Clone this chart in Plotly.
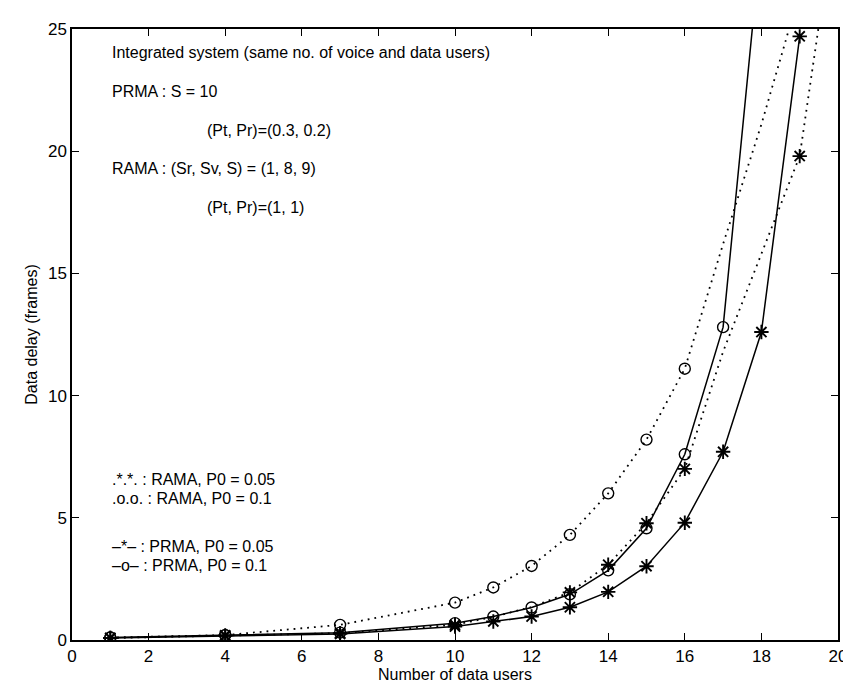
import plotly.graph_objects as go

# ---- data ----
prma01_x = [1, 4, 7, 10, 11, 12, 13, 14, 15, 16, 17, 18]
prma01_y = [0.10, 0.20, 0.30, 0.69, 0.96, 1.33, 1.87, 2.85, 4.57, 7.6, 12.8, 28.8]

prma005_x = [1, 4, 7, 10, 11, 12, 13, 14, 15, 16, 17, 18, 19]
prma005_y = [0.08, 0.17, 0.25, 0.55, 0.76, 0.96, 1.34, 1.97, 3.02, 4.8, 7.7, 12.6, 24.7]

rama01_x = [1, 4, 7, 10, 11, 12, 13, 14, 15, 16, 17, 18, 19]
rama01_y = [0.10, 0.20, 0.62, 1.53, 2.15, 3.03, 4.3, 6.0, 8.2, 11.1, 16.2, 21.1, 26.5]
rama01_mx = [1, 4, 7, 10, 11, 12, 13, 14, 15, 16]
rama01_my = [0.10, 0.20, 0.62, 1.53, 2.15, 3.03, 4.3, 6.0, 8.2, 11.1]

rama005_x = [1, 4, 7, 10, 11, 12, 13, 14, 15, 16, 17, 18, 19, 20]
rama005_y = [0.08, 0.19, 0.28, 0.62, 0.95, 1.35, 1.95, 3.08, 4.78, 7.0, 11.8, 15.8, 19.8, 30.5]
rama005_mx = [1, 4, 7, 10, 13, 14, 15, 16, 19]
rama005_my = [0.08, 0.19, 0.28, 0.62, 1.95, 3.08, 4.78, 7.0, 19.8]

x_ticks = [0, 2, 4, 6, 8, 10, 12, 14, 16, 18, 20]
y_ticks = [0, 5, 10, 15, 20, 25]

info_lines = [
    ("Integrated system (same no. of voice and data users)", 0.05, 40),
    ("PRMA : S = 10", 0.05, 79),
    ("(Pt, Pr)=(0.3, 0.2)", 0.173, 118),
    ("RAMA : (Sr, Sv, S) = (1, 8, 9)", 0.05, 157),
    ("(Pt, Pr)=(1, 1)", 0.173, 196),
    (".*.*. : RAMA, P0 = 0.05", 0.05, 470),
    (".o.o. : RAMA, P0 = 0.1", 0.05, 489),
    ("\u2013*\u2013 : PRMA, P0 = 0.05", 0.05, 538),
    ("\u2013o\u2013 : PRMA, P0 = 0.1", 0.05, 557),
]

FONT = "Liberation Sans, Arial, Helvetica, sans-serif"
W, H = 851, 686
ML, MR, MT, MB = 64, 12, 16, 54
PH = H - MT - MB

fig = go.Figure()

circ = dict(symbol="circle-open", size=11, color="black", line=dict(width=1.4, color="black"))
star = dict(symbol="asterisk-open", size=12, color="black", line=dict(width=1.9, color="black"))
dotted = dict(color="black", width=1.8, dash="1.8px,5px")

fig.add_trace(go.Scatter(x=rama01_x, y=rama01_y, mode="lines", line=dotted))
fig.add_trace(go.Scatter(x=rama01_mx, y=rama01_my, mode="markers", marker=circ))
fig.add_trace(go.Scatter(x=rama005_x, y=rama005_y, mode="lines", line=dotted))
fig.add_trace(go.Scatter(x=rama005_mx, y=rama005_my, mode="markers", marker=star))
fig.add_trace(go.Scatter(x=prma01_x, y=prma01_y, mode="lines+markers",
                         line=dict(color="black", width=1.5), marker=circ))
fig.add_trace(go.Scatter(x=prma005_x, y=prma005_y, mode="lines+markers",
                         line=dict(color="black", width=1.5), marker=star))

for txt, px, py in info_lines:
    fig.add_annotation(text=txt, xref="paper", yref="paper", x=px,
                       y=(H - MB - py) / PH, xanchor="left", yanchor="middle",
                       showarrow=False, font=dict(family=FONT, size=16, color="black"))

axis_common = dict(showgrid=False, zeroline=False, showline=True, linecolor="black",
                   linewidth=1.5, mirror="ticks", ticks="inside", ticklen=7,
                   tickwidth=1.2, tickcolor="black",
                   tickfont=dict(family=FONT, size=17, color="black"))

fig.update_layout(
    width=W, height=H, showlegend=False,
    margin=dict(l=ML, r=MR, t=MT, b=MB),
    paper_bgcolor="white", plot_bgcolor="white",
    xaxis=dict(range=[0, 20], tickvals=x_ticks, ticktext=[str(v) for v in x_ticks],
               title=dict(text="Number of data users", standoff=4,
                          font=dict(family=FONT, size=16, color="black")),
               **axis_common),
    yaxis=dict(range=[0, 25], tickvals=y_ticks, ticktext=[str(v) for v in y_ticks],
               title=dict(text="Data delay (frames)", standoff=6,
                          font=dict(family=FONT, size=16, color="black")),
               **axis_common),
)

fig.write_html("out.html")
